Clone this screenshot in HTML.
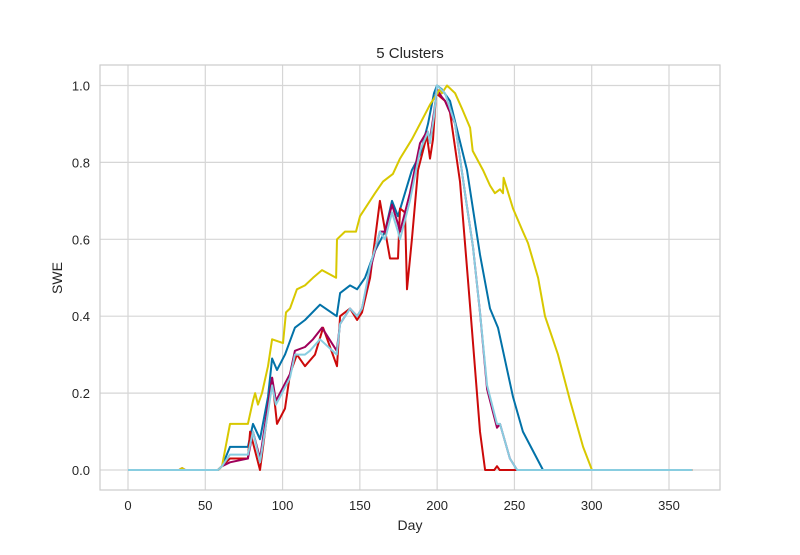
<!DOCTYPE html>
<html><head><meta charset="utf-8"><style>
body{margin:0;background:#fff;font-family:"Liberation Sans",sans-serif}
svg text{font-family:"Liberation Sans",sans-serif;fill:#262626}
</style></head><body>
<svg id="chart" width="800" height="550" xmlns="http://www.w3.org/2000/svg">
<rect width="800" height="550" fill="#fff"/>
<g id="grid"></g>
<rect x="100" y="65" width="620" height="425" fill="none" stroke="#cccccc" stroke-width="1.2"/>
<g id="series"></g>
<g id="ticks"></g>
<text x="410" y="58" font-size="15" text-anchor="middle">5 Clusters</text>
<text x="410" y="530" font-size="14" text-anchor="middle">Day</text>
<text x="62" y="278" font-size="14" text-anchor="middle" transform="rotate(-90 62 278)">SWE</text>
</svg>
<script>
const xTicks=[0,50,100,150,200,250,300,350];
const yTicks=[0,0.2,0.4,0.6,0.8,1.0];
const yTickLabels=["0.0","0.2","0.4","0.6","0.8","1.0"];
const seriesNames=["blue","red","purple","yellow","lightblue"];
const yellowDays=[0,33,35,37,58.2,60.8,66,77.6,80.9,82.2,84.1,86.7,90.6,93.2,100.3,102.2,104.8,109.3,114.5,119.7,125.5,134.6,135.2,140.4,147.5,150.1,159.8,165,171.4,176,183.7,188.9,195.4,201.8,203.1,206.4,211.6,216.1,221.3,223,229.7,234.2,237.4,240.7,242.6,243,249.1,255.5,258.8,265.3,269.8,278.2,286,294.4,300.2,365];
const yellowVals=[0,0,0.005,0,0,0.01,0.12,0.12,0.18,0.2,0.17,0.2,0.27,0.34,0.33,0.41,0.42,0.47,0.48,0.5,0.52,0.5,0.6,0.62,0.62,0.66,0.72,0.75,0.77,0.81,0.86,0.9,0.95,0.99,0.98,1.0,0.98,0.94,0.89,0.83,0.78,0.74,0.72,0.73,0.72,0.76,0.68,0.62,0.59,0.5,0.4,0.3,0.18,0.06,0,0];
const blueDays=[0,58.2,60.8,66,77.6,80.9,85.4,90.6,93.2,96.4,101.6,108,114.5,124.2,135,137.2,143.6,148.2,153.3,159.8,166.3,170.8,174.7,183.7,188.9,194.1,198,199.9,203,208.3,219.3,227.7,234.2,239.4,249.1,255.5,268.5,365];
const blueVals=[0,0,0.01,0.06,0.06,0.12,0.08,0.19,0.29,0.26,0.3,0.37,0.39,0.43,0.4,0.46,0.48,0.47,0.5,0.57,0.62,0.7,0.66,0.78,0.82,0.9,0.98,1.0,0.99,0.96,0.78,0.56,0.42,0.37,0.19,0.1,0,0];
const purpleDays=[0,33,35,37,58.2,60.8,66,77.6,80.9,85.4,90.6,93.2,95.7,99.6,104.8,108,114.5,119.7,125.5,135,137.2,143.6,148.2,151.4,156.6,163,166.3,170.8,174.7,176,179.2,182.4,188.9,193.4,195.4,198,199.9,203,205.1,211.6,218,223.2,227.7,232.3,238.7,240.7,247.1,251.7,365];
const purpleVals=[0,0,0.005,0,0,0.01,0.02,0.03,0.1,0.03,0.17,0.24,0.18,0.21,0.25,0.31,0.32,0.34,0.37,0.31,0.38,0.42,0.4,0.42,0.52,0.62,0.62,0.69,0.64,0.62,0.67,0.72,0.85,0.88,0.86,0.93,0.99,0.97,0.96,0.9,0.72,0.58,0.41,0.21,0.11,0.12,0.03,0,0];
const lightblueDays=[0,58.2,60.8,66,77.6,80.9,85.4,90.6,93.2,95.7,99.6,104.8,108,114.5,117.7,124.2,135,137.2,143.6,148.2,151.4,156.6,163,166.3,170.8,174.7,176,179.2,182.4,188.9,194.1,195.4,198,199.9,205.1,211.6,218,223.2,227.7,232.3,238.7,240.7,247.1,251.7,365];
const lightblueVals=[0,0,0.01,0.04,0.04,0.1,0.02,0.15,0.22,0.17,0.2,0.24,0.3,0.3,0.31,0.34,0.3,0.38,0.42,0.4,0.42,0.53,0.62,0.6,0.67,0.62,0.6,0.65,0.7,0.83,0.88,0.85,0.92,1.0,0.98,0.9,0.72,0.58,0.41,0.22,0.12,0.12,0.03,0,0];
const redDays=[0,58.2,60.8,66,77.6,79,85.4,93.2,96.4,101.6,104.8,109.3,114.5,121,126.2,135.2,137.2,143.6,148.2,151.4,156.6,163,169.5,174.7,176,179.2,180.5,183.7,187.6,192.1,193.4,195.4,197.3,199.3,205.1,208.3,214.8,220,222.6,227.7,231,237,238.7,240.5,365];
const redVals=[0,0,0.01,0.03,0.03,0.1,0,0.24,0.12,0.16,0.25,0.3,0.27,0.3,0.37,0.27,0.4,0.42,0.39,0.41,0.5,0.7,0.55,0.55,0.68,0.67,0.47,0.6,0.78,0.85,0.87,0.81,0.86,0.98,0.96,0.93,0.75,0.49,0.36,0.1,0,0,0.01,0,0];
const colors={yellow:"#d8c800",blue:"#0272a8",purple:"#a0005a",lightblue:"#88cde0",red:"#cc0a0a"};
const data={yellow:[yellowDays,yellowVals],blue:[blueDays,blueVals],purple:[purpleDays,purpleVals],lightblue:[lightblueDays,lightblueVals],red:[redDays,redVals]};
const xs=d=>128+d*1.5457;
const ys=v=>470-v*384.5;
const NS="http://www.w3.org/2000/svg";
const grid=document.getElementById('grid'),ticks=document.getElementById('ticks'),ser=document.getElementById('series');
xTicks.forEach(t=>{
  const l=document.createElementNS(NS,'line');
  l.setAttribute('x1',xs(t));l.setAttribute('x2',xs(t));l.setAttribute('y1',65);l.setAttribute('y2',490);
  l.setAttribute('stroke','#d6d6d6');l.setAttribute('stroke-width','1.2');
  
  
  grid.appendChild(l);
  const tx=document.createElementNS(NS,'text');
  tx.setAttribute('x',xs(t));tx.setAttribute('y',510);tx.setAttribute('font-size','13');tx.setAttribute('text-anchor','middle');
  tx.textContent=t;
  
  
  ticks.appendChild(tx);
});
yTicks.forEach((t,i)=>{
  const l=document.createElementNS(NS,'line');
  l.setAttribute('x1',100);l.setAttribute('x2',720);l.setAttribute('y1',ys(t));l.setAttribute('y2',ys(t));
  l.setAttribute('stroke','#d6d6d6');l.setAttribute('stroke-width','1.2');
  
  
  grid.appendChild(l);
  const tx=document.createElementNS(NS,'text');
  tx.setAttribute('x',90);tx.setAttribute('y',ys(t)+5);tx.setAttribute('font-size','13');tx.setAttribute('text-anchor','end');
  tx.textContent=yTickLabels[i];
  
  
  ticks.appendChild(tx);
});
seriesNames.forEach(n=>{
  const [d,v]=data[n];
  const p=document.createElementNS(NS,'polyline');
  p.setAttribute('points',d.map((x,i)=>xs(x).toFixed(1)+','+ys(v[i]).toFixed(1)).join(' '));
  p.setAttribute('fill','none');p.setAttribute('stroke',colors[n]);p.setAttribute('stroke-width','2');p.setAttribute('stroke-linejoin','round');
  
  
  ser.appendChild(p);
});
</script>
</body></html>
